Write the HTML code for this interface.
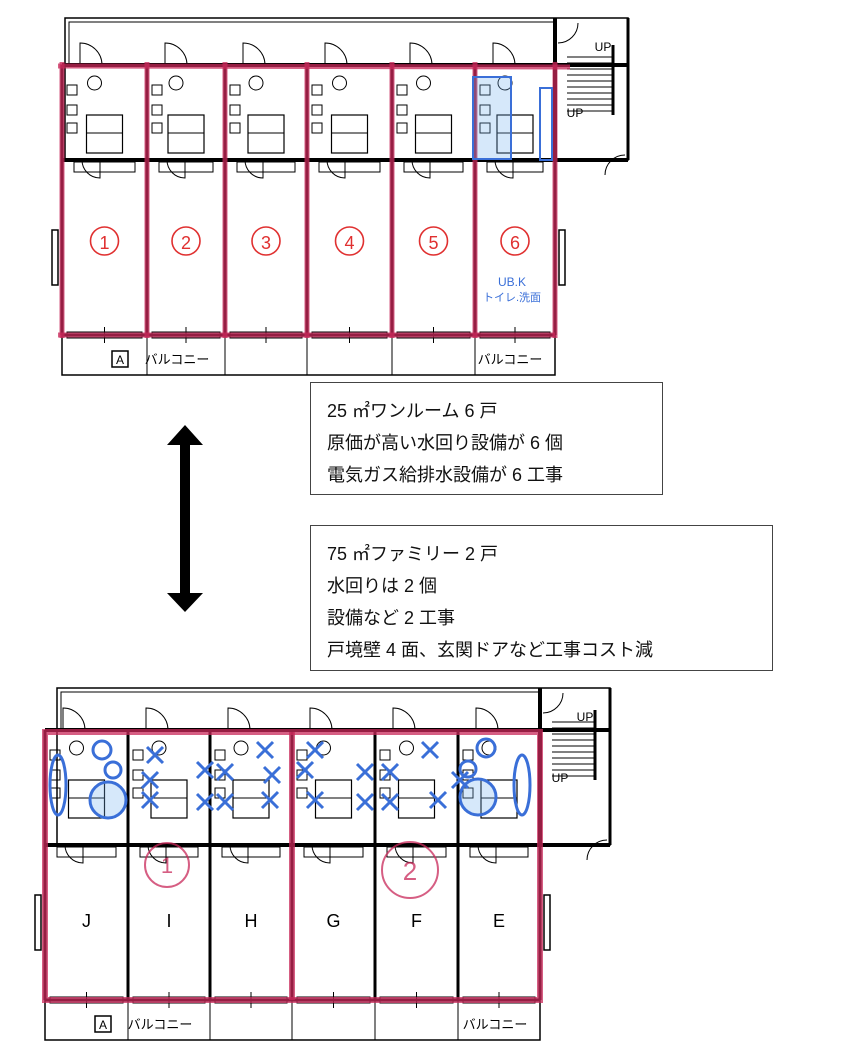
<!DOCTYPE html>
<html><head><meta charset="utf-8"><style>
body{margin:0;background:#fff;width:849px;height:1061px;overflow:hidden;font-family:"Liberation Sans","Noto Sans CJK JP",sans-serif}
svg{position:absolute;left:0;top:0}
.box{position:absolute;border:1px solid #444;background:#fff;font-size:18px;line-height:32px;padding:12px 0 0 16px;box-sizing:border-box;color:#111}
</style></head><body>
<svg id="s" width="849" height="1061" xmlns="http://www.w3.org/2000/svg"></svg>
<div class="box" style="left:310px;top:382px;width:353px;height:113px">25 ㎡ワンルーム 6 戸<br>原価が高い水回り設備が 6 個<br>電気ガス給排水設備が 6 工事</div>
<div class="box" style="left:310px;top:525px;width:463px;height:146px">75 ㎡ファミリー 2 戸<br>水回りは 2 個<br>設備など 2 工事<br>戸境壁 4 面、玄関ドアなど工事コスト減</div>
<script>
(function(){
var s=document.getElementById('s'),h='';
function L(x1,y1,x2,y2,w,c){h+='<line x1="'+x1+'" y1="'+y1+'" x2="'+x2+'" y2="'+y2+'" stroke="'+(c||'#000')+'" stroke-width="'+(w||1.5)+'"/>'}
function R(x,y,w,hh,sw,c,f){h+='<rect x="'+x+'" y="'+y+'" width="'+w+'" height="'+hh+'" fill="'+(f||'none')+'" stroke="'+(c||'#000')+'" stroke-width="'+(sw||1.5)+'"/>'}
function T(x,y,t,sz,c){h+='<text x="'+x+'" y="'+y+'" font-size="'+sz+'" fill="'+(c||'#000')+'" text-anchor="middle" font-family="Liberation Sans, Noto Sans CJK JP, sans-serif">'+t+'</text>'}
function C(x,y,r,c,w,f){h+='<circle cx="'+x+'" cy="'+y+'" r="'+r+'" fill="'+(f||'none')+'" stroke="'+c+'" stroke-width="'+(w||2)+'"/>'}
function plan(X,oy,xs,wallY,svcB,roomB,balB,stairR){
 var L0=xs[0],R0=xs[xs.length-1];
 R(X,oy,stairR-X,svcB-oy,1.5);
 R(L0,roomB,R0-L0,balB-roomB,1.5);
 R(X+4,oy+4,R0-X-4,wallY-oy-4,1);
 L(L0,wallY,stairR,wallY,4);
 L(L0,svcB,stairR,svcB,4);
 L(R0,oy,R0,svcB,4);L(stairR,oy,stairR,svcB,3);
 for(var i=0;i<10;i++)L(R0+12,wallY-8+i*6,stairR-15,wallY-8+i*6,1);
 L(stairR-15,wallY-20,stairR-15,wallY+50,3);
 T(stairR-25,oy+33,'UP',12);T(R0+20,wallY+52,'UP',12);
 h+='<path d="M'+(R0+3)+' '+(oy+25)+' a20 20 0 0 0 20 -20" fill="none" stroke="#000"/>';
 h+='<path d="M'+(stairR-3)+' '+(svcB-5)+' a20 20 0 0 0 -20 20" fill="none" stroke="#000"/>';
 for(var k=0;k<xs.length;k++){L(xs[k],wallY,xs[k],roomB,3);}
 L(L0,roomB,R0,roomB,3);
 for(var k=0;k<xs.length-1;k++){
  var a=xs[k],b=xs[k+1],m=(a+b)/2;
  h+='<path d="M'+(a+18)+' '+wallY+' v-22 a22 22 0 0 1 22 22" fill="none" stroke="#000"/>';
  C(m-10,wallY+18,7,'#000',1);
  R(a+5,wallY+20,10,10,1);R(a+5,wallY+40,10,10,1);R(a+5,wallY+58,10,10,1);
  R(m-18,wallY+50,36,38,1.2);L(m-18,wallY+68,m+18,wallY+68,1);
  h+='<path d="M'+(a+20)+' '+svcB+' a18 18 0 0 0 18 18 v-18" fill="none" stroke="#000"/>';
  R(a+12,svcB+2,b-a-24,10,1);
  R(a+5,roomB-3,b-a-10,6,1);L(m,roomB-8,m,roomB+8,1);
  L(b,roomB,b,balB,1);
 }
 R(L0-10,(wallY+roomB)/2+30,6,55,1.5);R(R0+4,(wallY+roomB)/2+30,6,55,1.5);
 R(L0+50,balB-24,16,16,1.5);
 T(L0+58,balB-11,'A',12);
 T(L0+115,balB-11,'バルコニー',13);T(R0-45,balB-11,'バルコニー',13);
}
var tp=[62,147,225,307,392,475,555];
plan(65,18,tp,65,160,335,375,628);
var bt=[45,128,210,292,375,458,540];
plan(57,688,bt,730,845,1000,1040,610);
var pk='rgba(200,40,90,0.75)';
L(58,66,570,67,5,pk);L(58,335,555,335,5,pk);
tp.forEach(function(x){L(x,62,x,338,5,pk)});
for(var i=0;i<6;i++){var m=(tp[i]+tp[i+1])/2;C(m,241,14,'#e03030',1.6);T(m,249,(i+1),18,'#e03030')}
var bl='#3a6fd8';
R(473,77,38,82,2,bl,'rgba(120,180,240,0.3)');R(540,88,12,72,2,bl);
T(512,286,'UB.K',12,bl);T(512,301,'トイレ.洗面',11,bl);
R(45,732,495,268,6,pk);L(292,732,292,1000,6,pk);
C(167,865,22,pk,2);T(167,873,'1',22,pk);C(410,870,28,pk,2);T(410,880,'2',26,pk);
var lt=['J','I','H','G','F','E'];
for(var i=0;i<6;i++)T((bt[i]+bt[i+1])/2,927,lt[i],18);
h+='<ellipse cx="58" cy="785" rx="8" ry="30" fill="none" stroke="'+bl+'" stroke-width="3"/>';
h+='<ellipse cx="522" cy="785" rx="8" ry="30" fill="none" stroke="'+bl+'" stroke-width="3"/>';
C(108,800,18,bl,3,'rgba(120,180,240,0.3)');C(102,750,9,bl,3);C(113,770,8,bl,3);
C(478,797,18,bl,3,'rgba(120,180,240,0.3)');C(486,748,9,bl,3);C(468,769,8,bl,3);
[[155,755],[150,780],[150,800],[205,770],[205,802],[225,772],[225,802],[265,750],[270,800],[315,750],[315,800],[365,772],[365,802],[390,772],[390,802],[430,750],[438,800],[272,775],[305,770],[460,780]].forEach(function(p){L(p[0]-8,p[1]-8,p[0]+8,p[1]+8,3,bl);L(p[0]+8,p[1]-8,p[0]-8,p[1]+8,3,bl)});
h+='<path d="M185 425 L203 445 L190 445 L190 593 L203 593 L185 612 L167 593 L180 593 L180 445 L167 445 Z" fill="#000"/>';
s.innerHTML=h;
})();
</script>
</body></html>
